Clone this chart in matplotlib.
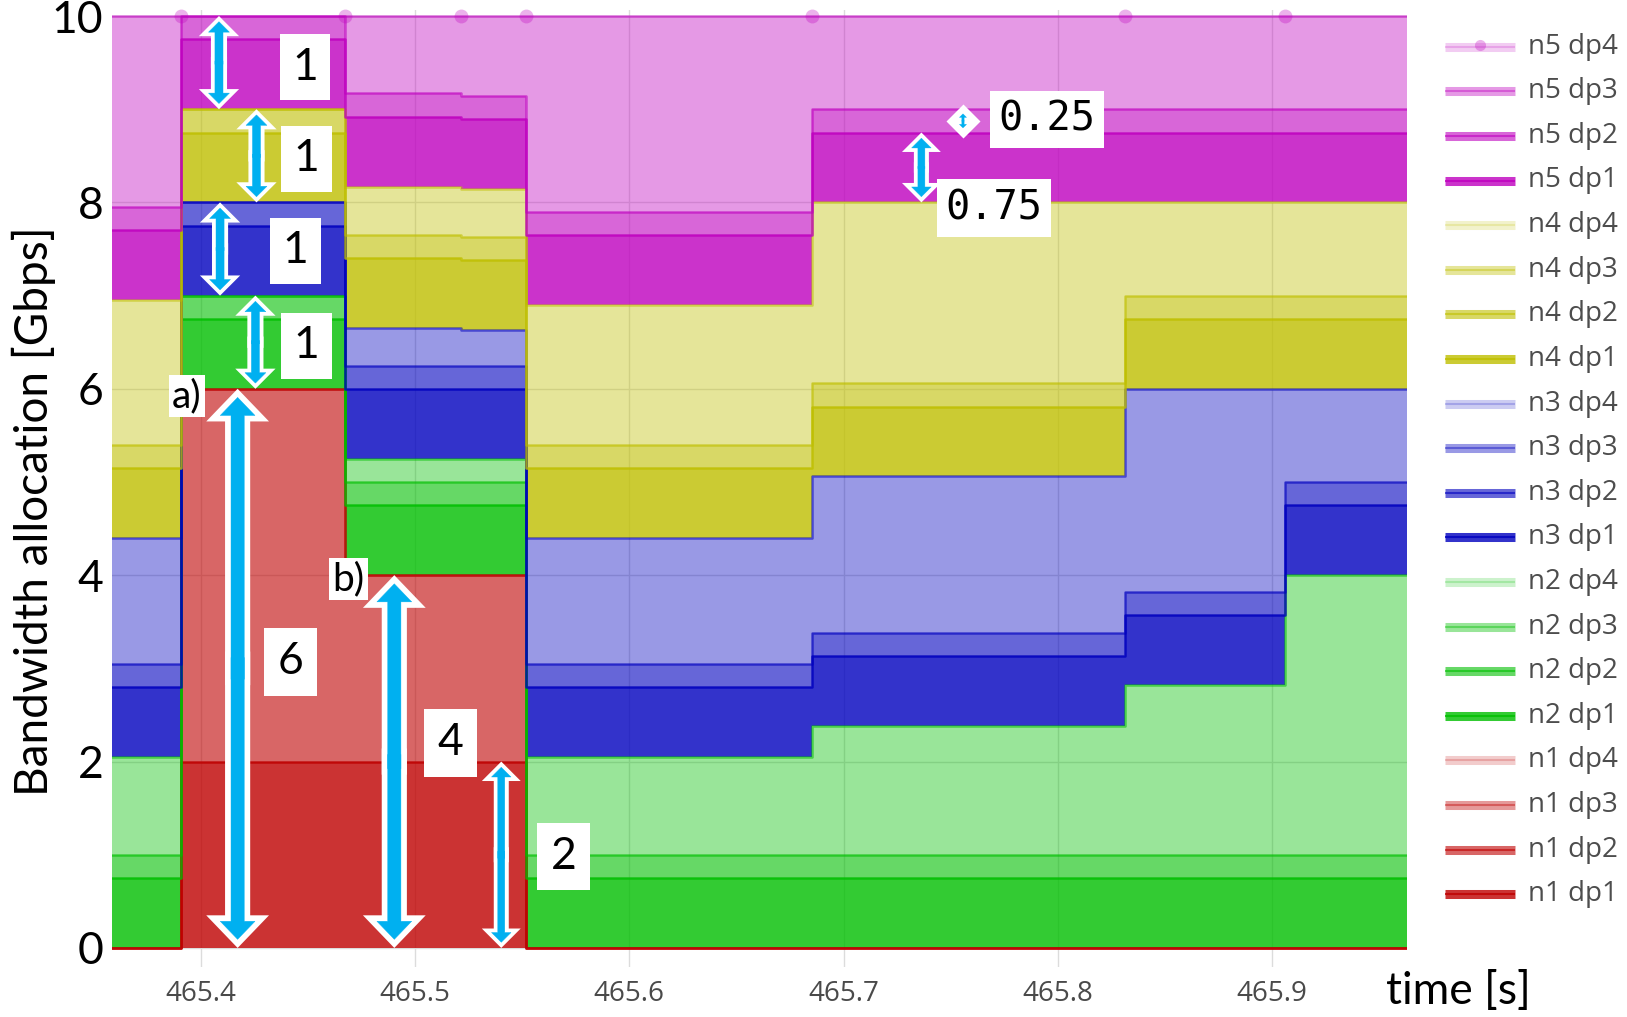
import numpy as np
import matplotlib
matplotlib.use('Agg')
import matplotlib.pyplot as plt
from matplotlib.lines import Line2D
from matplotlib.patches import FancyArrowPatch, ArrowStyle

# step start times [s], last one is the end of the window
t_steps = [465.3586, 465.3908, 465.4676, 465.5216, 465.5518, 465.6852, 465.8315, 465.9059]
t_end = 465.9628

# allocated bandwidth per node / data path [Gbps], one value per step
n1_dp1 = [0, 2, 2, 2, 0, 0, 0, 0]
n1_dp2 = [0, 4, 2, 2, 0, 0, 0, 0]
n1_dp3 = [0, 0, 0, 0, 0, 0, 0, 0]
n1_dp4 = [0, 0, 0, 0, 0, 0, 0, 0]
n2_dp1 = [0.75, 0.75, 0.75, 0.75, 0.75, 0.75, 0.75, 0.75]
n2_dp2 = [0.25, 0.25, 0.25, 0.25, 0.25, 0.25, 0.25, 0.25]
n2_dp3 = [1.05, 0, 0.25, 0.25, 1.05, 1.38, 1.82, 3.0]
n2_dp4 = [0, 0, 0, 0, 0, 0, 0, 0]
n3_dp1 = [0.75, 0.75, 0.75, 0.75, 0.75, 0.75, 0.75, 0.75]
n3_dp2 = [0.25, 0.25, 0.25, 0.25, 0.25, 0.25, 0.25, 0.25]
n3_dp3 = [1.35, 0, 0.4, 0.38, 1.35, 1.68, 2.18, 1.0]
n3_dp4 = [0, 0, 0, 0, 0, 0, 0, 0]
n4_dp1 = [0.75, 0.75, 0.75, 0.75, 0.75, 0.75, 0.75, 0.75]
n4_dp2 = [0.25, 0.25, 0.25, 0.25, 0.25, 0.25, 0.25, 0.25]
n4_dp3 = [1.55, 0, 0.52, 0.51, 1.5, 1.94, 1.0, 1.0]
n4_dp4 = [0, 0, 0, 0, 0, 0, 0, 0]
n5_dp1 = [0.75, 0.75, 0.75, 0.75, 0.75, 0.75, 0.75, 0.75]
n5_dp2 = [0.25, 0.25, 0.25, 0.25, 0.25, 0.25, 0.25, 0.25]
n5_dp3 = [2.05, 0, 0.83, 0.86, 2.1, 1.0, 1.0, 1.0]
n5_dp4 = [0, 0, 0, 0, 0, 0, 0, 0]

series = [
    ('n1 dp1', n1_dp1), ('n1 dp2', n1_dp2), ('n1 dp3', n1_dp3), ('n1 dp4', n1_dp4),
    ('n2 dp1', n2_dp1), ('n2 dp2', n2_dp2), ('n2 dp3', n2_dp3), ('n2 dp4', n2_dp4),
    ('n3 dp1', n3_dp1), ('n3 dp2', n3_dp2), ('n3 dp3', n3_dp3), ('n3 dp4', n3_dp4),
    ('n4 dp1', n4_dp1), ('n4 dp2', n4_dp2), ('n4 dp3', n4_dp3), ('n4 dp4', n4_dp4),
    ('n5 dp1', n5_dp1), ('n5 dp2', n5_dp2), ('n5 dp3', n5_dp3), ('n5 dp4', n5_dp4),
]

x_ticks = [465.4, 465.5, 465.6, 465.7, 465.8, 465.9]
x_labels = ['465.4', '465.5', '465.6', '465.7', '465.8', '465.9']
y_ticks = [0, 2, 4, 6, 8, 10]

node_rgb = {'n1': (0.75, 0, 0), 'n2': (0, 0.75, 0), 'n3': (0, 0, 0.75),
            'n4': (0.75, 0.75, 0), 'n5': (0.75, 0, 0.75)}
dp_alpha = {'dp1': 0.8, 'dp2': 0.6, 'dp3': 0.4, 'dp4': 0.2}
BLUE = '#00B0F0'
LABEL_FONT = ['Lato', 'DejaVu Sans']

W, H = 1627, 1017
fig = plt.figure(figsize=(W / 100, H / 100), dpi=100)
ax = fig.add_axes([111.8 / W, 1 - 966.6 / H, 1295.1 / W, 957.1 / H])

x = np.array(t_steps + [t_end])
base = np.zeros(len(x))
tops = {}
colors = {}
for name, vals in series:
    node, dp = name.split()
    rgba = node_rgb[node] + (dp_alpha[dp],)
    v = np.array(vals + [vals[-1]], dtype=float)
    top = base + v
    ax.fill_between(x, base, top, step='post', color=rgba, lw=0, zorder=2)
    tops[name] = top
    colors[name] = rgba
    base = top

# trace outlines on top of all the fills
for name, _ in series:
    ax.step(x, tops[name], where='post', color=colors[name], lw=1.8, zorder=3)

# markers of the last trace sit on the 10 Gbps ceiling
ax.plot(x[1:-1], tops['n5 dp4'][1:-1], 'o', ms=10, color=(0.75, 0, 0.75, 0.3),
        mec='none', zorder=4, clip_on=False)

ax.set_xlim(x[0], x[-1])
ax.set_ylim(-0.2, 10.07)
ax.set_xticks(x_ticks)
ax.set_xticklabels(x_labels)
ax.set_yticks(y_ticks)
ax.set_yticklabels([str(v) for v in y_ticks])
ax.tick_params(length=0)
ax.tick_params(axis='y', pad=6, labelsize=32)
ax.tick_params(axis='x', pad=10, labelsize=20, labelcolor='#4a4a4a')
for lab in ax.get_yticklabels():
    lab.set_family(LABEL_FONT)
for lab in ax.get_xticklabels():
    lab.set_family(['Liberation Sans Narrow', 'Open Sans'])
for sp in ax.spines.values():
    sp.set_visible(False)
ax.set_axisbelow(True)
ax.grid(color='#dcdcdc', lw=1, zorder=0)

ax.set_ylabel('Bandwidth allocation [Gbps]', fontsize=33, family=LABEL_FONT, va='center')
ax.yaxis.set_label_coords(-0.060, 0.476)
ax.set_xlabel('time [s]', fontsize=32, family=LABEL_FONT, va='center', ha='center')
ax.xaxis.set_label_coords(1.0395, -0.0255)

px_per_unit = ax.transData.transform((0, 1))[1] - ax.transData.transform((0, 0))[1]


def double_arrow(t, y0, y1, tail, head_w, head_l, border, inset=True):
    # two block arrows from the middle outwards, white rim under a blue body
    d = 0
    if inset:
        theta = np.arctan((head_w / 2) / head_l)
        d = (border / np.sin(theta)) * 100 / 72 / px_per_unit
    lo, hi = y0 + d, y1 - d
    mid = 0.5 * (lo + hi)
    lap = 0.02 * (hi - lo)
    style = ArrowStyle('simple', head_length=head_l, head_width=head_w, tail_width=tail)
    if border > 0:
        for start, end in ((mid + lap, lo), (mid - lap, hi)):
            ax.add_patch(FancyArrowPatch((t, start), (t, end), arrowstyle=style,
                                         mutation_scale=1, shrinkA=0, shrinkB=0,
                                         fc='white', ec='white', lw=2 * border,
                                         joinstyle='miter', zorder=5, clip_on=False))
    for start, end in ((mid + lap, lo), (mid - lap, hi)):
        ax.add_patch(FancyArrowPatch((t, start), (t, end), arrowstyle=style, mutation_scale=1,
                                     shrinkA=0, shrinkB=0, fc=BLUE, ec=BLUE, lw=0.3,
                                     zorder=6, clip_on=False))


def box_label(t, y, s, size=32, family=LABEL_FONT, pad=0.25):
    ax.text(t, y, s, fontsize=size, family=family, ha='center', va='center', zorder=7,
            bbox=dict(boxstyle=f'square,pad={pad}', fc='white', ec='none'))


# a) one unit per node at the first step
k = 1
for node, xa, xl, yl in (('n2', 465.4256, 465.4493, 6.46), ('n3', 465.4091, 465.4444, 7.48),
                         ('n4', 465.4261, 465.4493, 8.47), ('n5', 465.4086, 465.4488, 9.45)):
    prev = {'n2': 'n1', 'n3': 'n2', 'n4': 'n3', 'n5': 'n4'}[node]
    lo, hi = tops[prev + ' dp4'][k], tops[node + ' dp4'][k]
    double_arrow(xa, lo, hi, tail=5.8, head_w=15, head_l=7.5, border=2.9)
    box_label(xl, yl, f'{hi - lo:g}', pad=0.28)

six = tops['n1 dp4'][1]
double_arrow(465.4173, 0, six, tail=9.5, head_w=25, head_l=13, border=4.3)
box_label(465.442, 3.07, f'{six:g}', pad=0.3)
box_label(465.3936, 5.92, 'a)', size=28, pad=0.08)

four = tops['n1 dp4'][2]
double_arrow(465.4904, 0, four, tail=9.5, head_w=25, head_l=13, border=4.3)
box_label(465.5166, 2.2, f'{four:g}', pad=0.3)
box_label(465.4691, 3.96, 'b)', size=28, pad=0.08)

two = tops['n1 dp1'][3]
double_arrow(465.5403, 0, two, tail=5, head_w=14, head_l=7, border=2.9)
box_label(465.5693, 0.98, f'{two:g}', pad=0.3)

lo, mid_, hi = tops['n4 dp4'][5], tops['n5 dp1'][5], tops['n5 dp2'][5]
double_arrow(465.7363, lo, mid_, tail=5, head_w=14, head_l=7, border=2.9)
box_label(465.7702, 7.94, f'{mid_ - lo:g}', size=29, family=['DejaVu Sans Mono'], pad=0.22)
# the 0.25 band is too thin for a rimmed arrow: white diamond with a tiny arrow inside
c, half = 0.5 * (mid_ + hi), 0.3 * (hi - mid_)
ax.plot([465.7557], [c], marker='D', ms=17, color='white', mec='none', zorder=5)
double_arrow(465.7557, c - half, c + half, tail=1.6, head_w=5, head_l=2.5, border=0,
             inset=False)
box_label(465.7949, 8.89, f'{hi - mid_:g}', size=29, family=['DejaVu Sans Mono'], pad=0.22)

# legend, last trace on top
for i, (name, _) in enumerate(reversed(series)):
    yf = 1 - (46.7 + i * 44.6) / H
    xs = [1445 / W, 1515 / W]
    fig.add_artist(Line2D(xs, [yf, yf], lw=6.5, color=colors[name], solid_capstyle='butt'))
    fig.add_artist(Line2D(xs, [yf, yf], lw=1.5, color=colors[name], solid_capstyle='butt'))
    if name == 'n5 dp4':
        fig.add_artist(Line2D([sum(xs) / 2], [yf + 2 / H], marker='o', ms=8, mec='none',
                              color=(0.75, 0, 0.75, 0.3)))
    fig.text(1528 / W, yf, name, ha='left', va='center', fontsize=20,
             family=['Open Sans', 'DejaVu Sans'], color='#4d4d4d')

fig.savefig('out.png', dpi=100)
